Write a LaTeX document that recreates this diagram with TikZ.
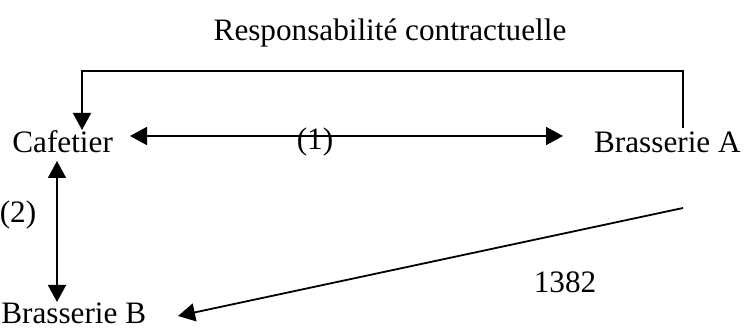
\documentclass[tikz,border=0pt]{standalone}
\usepackage{fontspec}
\setmainfont{Liberation Serif}
\usetikzlibrary{arrows.meta}
\begin{document}
\begin{tikzpicture}[x=0.5pt,y=-0.5pt,
  lbl/.style={inner sep=0pt, font=\fontsize{15.6}{18}\selectfont},
  conn/.style={line width=0.9pt, -{Triangle[length=8.5pt,width=9pt]}},
  conn2/.style={line width=0.9pt, {Triangle[length=8.5pt,width=9pt]}-{Triangle[length=8.5pt,width=9pt]}}]
\useasboundingbox (0,0) rectangle (746,330);
\node[lbl] (title) at (390,33) {Responsabilité contractuelle};
\node[lbl, anchor=west] (caf) at (12,142) {Cafetier};
\node[lbl, anchor=east] (bra) at (741,142) {Brasserie A};
\node[lbl, anchor=west] (brb) at (1,313) {Brasserie B};
\node[lbl] (one) at (315,142) {(1)};
\node[lbl] (two) at (18,215) {(2)};
\node[lbl] (n1382) at (565,282) {1382};
\coordinate (cafTop) at (82,130);
\coordinate (braTop) at (683,128);
\coordinate (cafR) at (130,136);
\coordinate (braL) at (563,136);
\coordinate (cafB) at (57,161);
\coordinate (brbT) at (57,302);
\coordinate (braB) at (683,208);
\coordinate (brbR) at (178,316);
\draw[conn] (braTop) -- (braTop |- 0,71) -| (cafTop);
\draw[conn2] (cafR) -- (braL);
\draw[conn2] (cafB) -- (brbT);
\draw[conn] (braB) -- (brbR);
\end{tikzpicture}
\end{document}
